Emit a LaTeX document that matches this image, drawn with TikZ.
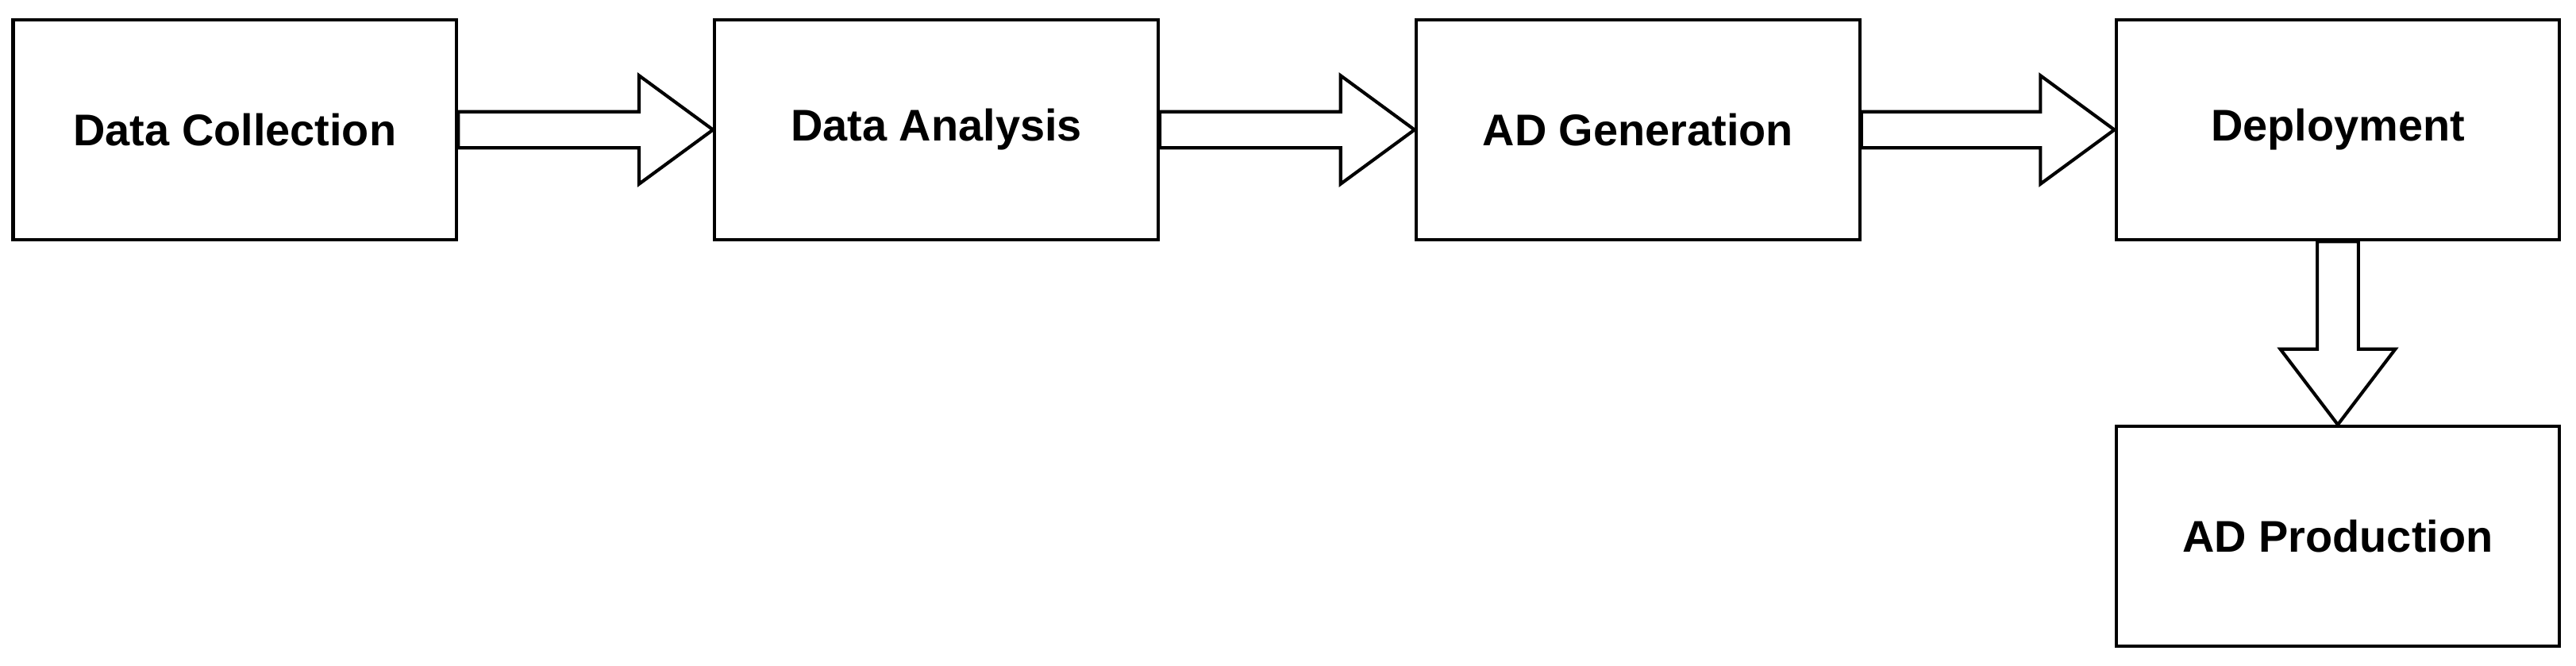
\documentclass[tikz,border=0pt]{standalone}
\usepackage{fontspec}
\setmainfont{Liberation Sans}
\usetikzlibrary{calc}
\begin{document}
\begin{tikzpicture}[x=1pt,y=1pt,
  box/.style={draw,line width=2pt,minimum width=270pt,minimum height=134pt,inner sep=0pt,font=\fontsize{27}{32}\selectfont\bfseries},
  ba/.style={draw,line width=2pt,fill=white,line join=miter}]
\useasboundingbox (0,0) rectangle (1568,405);
\node[box] (a) at (143,326) {Data Collection};
\node[box] (b) at (570,326) {Data Analysis};
\node[box] (c) at (997,326) {AD Generation};
\node[box] (d) at (1423,326) {Deployment};
\node[box] (e) at (1423,78.5) {AD Production};
\foreach \s/\t in {a/b,b/c,c/d}{
\draw[ba] ($(\s.east)+(0,11)$) -- ($(\t.west)+(-45,11)$) -- ($(\t.west)+(-45,33)$) -- (\t.west) -- ($(\t.west)+(-45,-33)$) -- ($(\t.west)+(-45,-11)$) -- ($(\s.east)+(0,-11)$) -- cycle;}
\draw[ba] ($(d.south)+(-12.5,0)$) -- ($(e.north)+(-12.5,46)$) -- ($(e.north)+(-35,46)$) -- (e.north) -- ($(e.north)+(35,46)$) -- ($(e.north)+(12.5,46)$) -- ($(d.south)+(12.5,0)$) -- cycle;
\end{tikzpicture}
\end{document}
